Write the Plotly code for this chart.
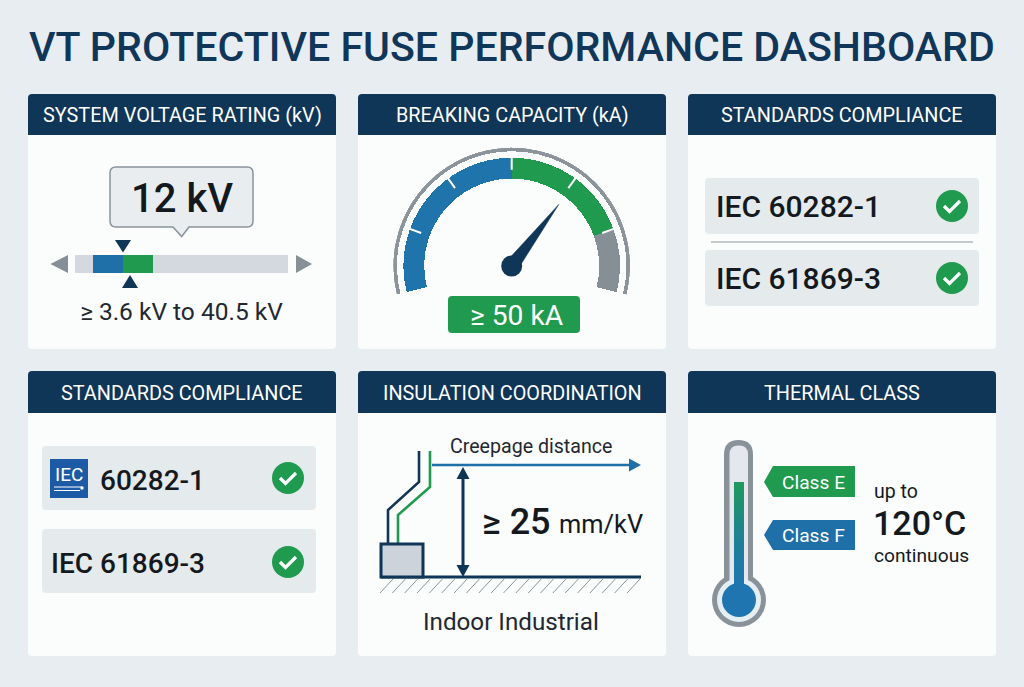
import plotly.graph_objects as go

# ---------- data ----------
TITLE = "VT PROTECTIVE FUSE PERFORMANCE DASHBOARD"
HEADERS = ["SYSTEM VOLTAGE RATING (kV)", "BREAKING CAPACITY (kA)", "STANDARDS COMPLIANCE",
           "STANDARDS COMPLIANCE", "INSULATION COORDINATION", "THERMAL CLASS"]
VOLT_SCALE_KV = [-1.44, 58.2]       # estimated extent of the grey track
VOLT_BLUE_KV = [3.6, 12.0]
VOLT_GREEN_KV = [12.0, 20.4]
RATED_KV = "12 kV"
VOLT_RANGE_LABEL = "\u2265 3.6 kV to 40.5 kV"
GAUGE_START = [194, 90, 20]         # segment start angles (deg)
GAUGE_END = [90, 20, -14]           # segment end angles (deg)
GAUGE_COLORS = ["#1f74ab", "#1f9a4e", "#868e96"]
GAUGE_TICKS = [160, 126, 90, 54, 20]
NEEDLE_ANGLE = 52.6
BREAKING = "\u2265 50 kA"
STD_A = ["IEC 60282-1", "IEC 61869-3"]
STD_B = ["60282-1", "IEC 61869-3"]
CREEPAGE = "\u2265 25"
CREEPAGE_UNIT = "mm/kV"
TAGS = ["Class E", "Class F"]

# ---------- palette ----------
BG = "#e8edf2"; CARD = "#fbfcfc"; NAVY = "#0f3557"; GREEN = "#1f9a4e"; BLUE = "#1f6fa8"
GREY = "#868e96"; ROW = "#e5eaed"; TRACK = "#d3d9de"; INK = "#14191e"
FONT = "Roboto"

shapes, ann, traces = [], [], []


def rrect(x0, y0, x1, y1, r):
    return (f"M{x0+r},{y0} L{x1-r},{y0} Q{x1},{y0} {x1},{y0+r} L{x1},{y1-r} Q{x1},{y1} {x1-r},{y1} "
            f"L{x0+r},{y1} Q{x0},{y1} {x0},{y1-r} L{x0},{y0+r} Q{x0},{y0} {x0+r},{y0} Z")


def poly(pts, close=True):
    return "M" + " L".join(f"{x},{y}" for x, y in pts) + (" Z" if close else "")


def path(d, fill=None, line=None, w=0, layer="below"):
    s = dict(type="path", path=d, xref="x", yref="y", layer=layer,
             line=dict(color=line or "rgba(0,0,0,0)", width=w))
    if fill:
        s["fillcolor"] = fill
    shapes.append(s)


def circle(cx, cy, r, fill, line=None, w=0, layer="below"):
    shapes.append(dict(type="circle", x0=cx-r, x1=cx+r, y0=cy-r, y1=cy+r, xref="x", yref="y",
                       fillcolor=fill, layer=layer, line=dict(color=line or "rgba(0,0,0,0)", width=w)))


def text(x, y, s, size, color=INK, anchor="left", weight=400):
    ann.append(dict(x=x, y=y, xref="x", yref="y", text=s, showarrow=False, xanchor=anchor, yanchor="middle",
                    font=dict(family=FONT, size=size, color=color, weight=weight)))


def check(cx, cy):
    circle(cx, cy, 16, GREEN)
    path(poly([(cx-8, cy), (cx-2.5, cy+5.5), (cx+8, cy-5)], close=False), line="white", w=3.2)


# ---------- cards ----------
cols = [(28, 336), (358, 666), (688, 996)]
rows = [(94, 349, 135), (371, 656, 413)]
i = 0
for (y0, y1, yh) in rows:
    for (x0, x1) in cols:
        path(rrect(x0, y0, x1, y1, 4), fill=CARD)
        path(f"M{x0},{yh} L{x0},{y0+4} Q{x0},{y0} {x0+4},{y0} L{x1-4},{y0} Q{x1},{y0} {x1},{y0+4} L{x1},{yh} Z", fill=NAVY)
        text((x0+x1)/2, (y0+yh)/2+1, HEADERS[i], 19.85, "white", "center")
        i += 1

text(512, 47, TITLE, 41.1, "#10365a", "center", 500)

# ---------- card 1: voltage ----------
path(f"M{110+6},167 L247,167 Q253,167 253,173 L253,221 Q253,227 247,227 L189,227 L181.7,236.5 L173,227 "
     f"L116,227 Q110,227 110,221 L110,173 Q110,167 116,167 Z", fill="#e9edf0", line="#8a949c", w=1.5)
text(182, 198, RATED_KV, 40, INK, "center", 500)
path(poly([(50.5, 264), (68, 255), (68, 273)]), fill=GREY)
path(poly([(312, 264), (296, 255), (296, 273)]), fill=GREY)
path(poly([(115, 240), (131, 240), (123, 252.5)]), fill=NAVY)
path(poly([(122, 288), (138, 288), (130, 275)]), fill=NAVY)
text(181, 311, VOLT_RANGE_LABEL, 24.5, "#1f2830", "center")

for rng, col in [(VOLT_SCALE_KV, TRACK), (VOLT_BLUE_KV, BLUE), (VOLT_GREEN_KV, GREEN)]:
    traces.append(go.Bar(y=[0], x=[rng[1]-rng[0]], base=[rng[0]], orientation="h", width=1,
                         marker=dict(color=col, line=dict(width=0)), xaxis="x2", yaxis="y2",
                         hoverinfo="skip", showlegend=False))

# ---------- card 2: gauge ----------
for a0, a1, col in zip(GAUGE_START, GAUGE_END, GAUGE_COLORS):
    traces.append(go.Barpolar(theta=[(a0+a1)/2], width=[a0-a1], base=[88], r=[21],
                              marker=dict(color=col, line=dict(width=0)), hoverinfo="skip", showlegend=False))
traces.append(go.Barpolar(theta=[90], width=[208], base=[115.5], r=[3.8],
                          marker=dict(color="#8c949b", line=dict(width=0)), hoverinfo="skip", showlegend=False))
for a in GAUGE_TICKS:
    traces.append(go.Scatterpolar(theta=[a, a], r=[97, 110], mode="lines", line=dict(color="white", width=2),
                                  hoverinfo="skip", showlegend=False))
traces.append(go.Scatterpolar(theta=[NEEDLE_ANGLE, NEEDLE_ANGLE+90, NEEDLE_ANGLE-90, NEEDLE_ANGLE],
                              r=[78, 7, 7, 78], mode="lines", fill="toself", fillcolor=NAVY,
                              line=dict(color=NAVY, width=0.5), hoverinfo="skip", showlegend=False))
traces.append(go.Scatterpolar(theta=[0], r=[0], mode="markers", marker=dict(color=NAVY, size=21),
                              hoverinfo="skip", showlegend=False))
path(rrect(448, 296, 580, 333, 4), fill=GREEN)
text(517, 315, BREAKING, 28.2, "white", "center")

# ---------- card 3: standards ----------
path(rrect(705, 178, 979, 234, 4), fill=ROW)
path(rrect(705, 250, 979, 306, 4), fill=ROW)
path("M711,242 L973,242", line="#8f979e", w=1)
text(714, 206, STD_A[0], 30, INK, "left", 500)
text(714, 278, STD_A[1], 30, INK, "left", 500)
check(952, 206)
check(952, 278)

# ---------- card 4: standards with logo ----------
path(rrect(42, 446, 316, 510, 4), fill=ROW)
path(rrect(42, 529, 316, 593, 4), fill=ROW)
path("M50,459 L88,459 L88,498 L50,498 Z", fill="#1d5aa6")
text(69, 474, "IEC", 19, "white", "center")
path("M54,487 L82,487 M54,490.5 L80,490.5", line="white", w=1)
circle(82, 488, 1.7, "white")
text(98, 480, STD_B[0], 28, INK, "left", 500)
text(49, 563, STD_B[1], 28, INK, "left", 500)
check(288, 478)
check(288, 562)

# ---------- card 5: insulation ----------
text(531, 446, "Creepage distance", 19.6, "#1f2830", "center")
path("M432,465 L632,465", line=BLUE, w=2.6)
path(poly([(641, 465), (629, 458.5), (629, 471.5)]), fill=BLUE)
path("M463,476 L463,568", line=NAVY, w=3)
path(poly([(463, 467), (456.5, 479), (469.5, 479)]), fill=NAVY)
path(poly([(463, 577), (456.5, 565), (469.5, 565)]), fill=NAVY)
text(480, 522, CREEPAGE, 36, INK, "left", 500)
text(557, 524, CREEPAGE_UNIT, 25.4)
for k in range(21):
    x = 393 + k * 12.35
    path(f"M{x},579 L{x-13},593", line="#8a949c", w=1)
path("M381,577 L641,577", line=NAVY, w=3)
path("M388,544 L388,510 L419,482 L419,451", line=NAVY, w=2.6)
path("M398,544 L398,515 L430,487 L430,451", line=GREEN, w=2.6)
path("M381,544 L423,544 L423,577 L381,577 Z", fill="#ccd3da", line=NAVY, w=3)
text(511, 622, "Indoor Industrial", 24.2, "#1f2830", "center")

# ---------- card 6: thermal ----------
path(rrect(724, 440, 753, 600, 14.5), fill="#8a9299")
circle(739, 600, 27, "#8a9299")
path(rrect(729.5, 445.5, 748, 600, 9), fill="#e4e8ee")
circle(739, 600, 22, "#e4eef5")
traces.append(go.Scatter(x=[734, 744, 744, 734, 734], y=[482, 482, 590, 590, 482], mode="lines",
                         fill="toself", line=dict(width=0), hoverinfo="skip", showlegend=False,
                         fillgradient=dict(type="vertical",
                                           colorscale=[[0, "#1f75b0"], [0.45, "#1f7f96"], [1, "#1f9a5c"]])))
traces.append(go.Scatter(x=[739], y=[600], mode="markers", marker=dict(color="#1f75b0", size=34, line=dict(width=0)),
                         hoverinfo="skip", showlegend=False))
path(poly([(764, 482), (773, 466), (855, 466), (855, 497), (773, 497)]), fill=GREEN)
path(poly([(764, 535), (773, 520), (855, 520), (855, 550), (773, 550)]), fill=BLUE)
text(813.5, 482, TAGS[0], 19.2, "white", "center")
text(813.5, 535, TAGS[1], 19.2, "white", "center")
text(872, 491, "up to", 19.5)
text(871, 523, "120\u00b0C", 34, INK, "left", 500)
text(872, 555, "continuous", 19.2)

# ---------- figure ----------
def hidden(**kw):
    return dict(visible=False, showgrid=False, zeroline=False, fixedrange=True, **kw)


fig = go.Figure(traces)
fig.update_layout(
    width=1024, height=687, margin=dict(l=0, r=0, t=0, b=0), autosize=False,
    paper_bgcolor=BG, plot_bgcolor="rgba(0,0,0,0)", showlegend=False,
    barmode="overlay", bargap=0,
    xaxis=hidden(range=[0, 1024], domain=[0, 1]),
    yaxis=hidden(range=[687, 0], domain=[0, 1]),
    xaxis2=hidden(range=VOLT_SCALE_KV, domain=[75/1024, 288/1024], anchor="y2"),
    yaxis2=hidden(range=[-0.5, 0.5], domain=[1-273/687, 1-255/687], anchor="x2"),
    polar=dict(domain=dict(x=[(511.7-118.5)/1024, (511.7+118.5)/1024], y=[1-(266+118.5)/687, 1-(266-118.5)/687]),
               bgcolor="rgba(0,0,0,0)",
               radialaxis=dict(visible=False, range=[0, 119.3]),
               angularaxis=dict(visible=False, rotation=0, direction="counterclockwise")),
    shapes=shapes, annotations=ann,
)
fig.write_html("out.html", config=dict(displayModeBar=False),
               post_script="document.body.style.margin='0';")
